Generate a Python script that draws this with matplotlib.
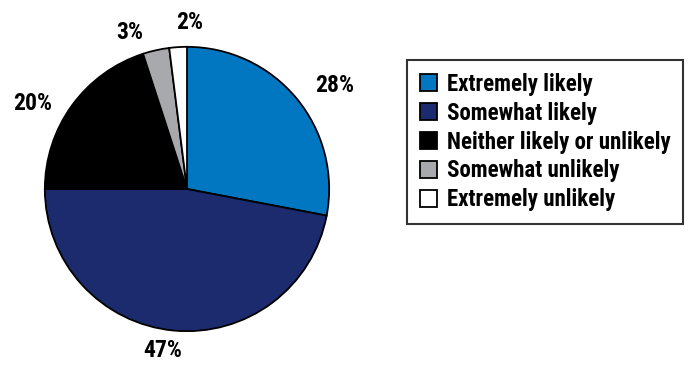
import matplotlib
matplotlib.use('Agg')
import matplotlib.pyplot as plt
from matplotlib import font_manager as fm
from matplotlib.patches import Patch
import numpy as np

categories = ['Extremely likely', 'Somewhat likely', 'Neither likely or unlikely',
              'Somewhat unlikely', 'Extremely unlikely']
shares = [28, 47, 20, 3, 2]
colors = ['#0077c0', '#1c2b6e', '#000000', '#a7a9ac', '#ffffff']

# label placement around the pie: (angle in degrees, distance in radii)
label_pos = [(35, 1.27), (-98.5, 1.15), (151, 1.24), (110, 1.17), (89, 1.17)]

# pick a condensed bold face if one is installed
installed = {f.name for f in fm.fontManager.ttflist}
wanted = ['Roboto Condensed', 'Archivo Narrow', 'Liberation Sans Narrow', 'PT Sans Narrow',
          'Barlow Condensed', 'Fira Sans Condensed']
family = [f for f in wanted if f in installed][:1] + ['DejaVu Sans']
plt.rcParams['font.family'] = family
plt.rcParams['font.weight'] = 'bold'

W, H = 691, 366
fig = plt.figure(figsize=(W / 100, H / 100), dpi=100)

# pie centred at (187, 189) px, radius 145 px
cx, cy, r = 187, 189, 145
ax = fig.add_axes([(cx - r) / W, (H - cy - r) / H, 2 * r / W, 2 * r / H])
wedges, _ = ax.pie(shares, colors=colors, startangle=90, counterclock=False,
                   radius=1, wedgeprops=dict(edgecolor='black', linewidth=1.3))
ax.set_xlim(-1.02, 1.02)
ax.set_ylim(-1.02, 1.02)
ax.set_aspect('equal')
ax.axis('off')

for val, (ang, dist) in zip(shares, label_pos):
    a = np.deg2rad(ang)
    ax.text(dist * np.cos(a), dist * np.sin(a), f'{val}%', ha='center', va='center',
            fontsize=17, fontweight='bold', clip_on=False)

handles = [Patch(facecolor=c, edgecolor='black', linewidth=1.3) for c in colors]
leg = fig.legend(handles, categories, loc='upper left',
                 bbox_to_anchor=(407 / W, 1 - 60 / H), borderaxespad=0,
                 frameon=True, fancybox=False, edgecolor='black',
                 prop=dict(size=16.5, weight='bold'),
                 handlelength=0.78, handleheight=0.78, handletextpad=0.4,
                 labelspacing=0.26, borderpad=0.55)
leg.get_frame().set_linewidth(1.5)

fig.savefig('out.png', dpi=100)
